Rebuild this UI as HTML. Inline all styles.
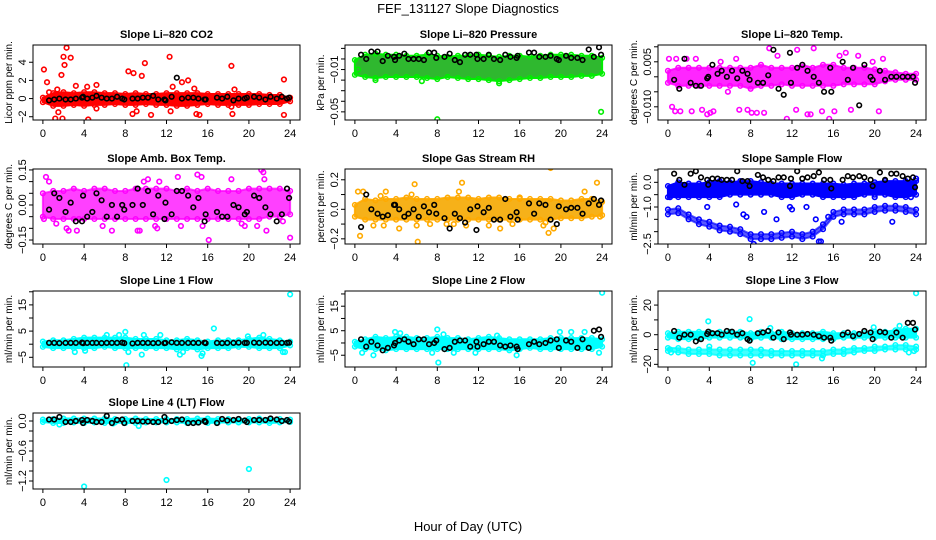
<!DOCTYPE html>
<html><head><meta charset="utf-8"><style>
html,body{margin:0;padding:0;background:#fff}
svg{display:block;font-family:"Liberation Sans",Arial,sans-serif}
</style></head><body>
<svg id="chart" width="936" height="540" viewBox="0 0 936 540" xmlns="http://www.w3.org/2000/svg">
<text x="468" y="13" font-size="13" text-anchor="middle">FEF_131127  Slope Diagnostics</text>
<text x="468" y="531" font-size="13" text-anchor="middle">Hour of Day (UTC)</text>
</svg>
<script>
// ---- shared categories ----
const hours = [0,1,2,3,4,5,6,7,8,9,10,11,12,13,14,15,16,17,18,19,20,21,22,23,24];
const blackTimes = [0.6,1.1,1.6,2.2,2.7,3.2,3.8,3.9,4.3,4.8,5.2,5.7,6.2,6.7,7.2,7.7,7.9,8.7,9.2,9.7,10.2,10.7,11.2,11.8,11.9,12.5,13.0,13.5,14.1,14.6,15.1,15.7,15.8,16.9,17.4,17.9,18.5,19.0,19.6,19.8,20.5,21.0,21.6,22.1,22.7,23.2,23.7,23.9];
const xTicks = [0,4,8,12,16,20,24];

// ---- Li-820 CO2 ----
const co2Lo = [-0.4,-0.8,-0.8,-0.7,-0.8,-0.7,-0.7,-0.6,-0.7,-0.7,-0.6,-0.7,-0.7,-0.8,-0.8,-0.7,-0.6,-0.7,-0.7,-0.7,-0.7,-0.6,-0.6,-0.6,-0.3];
const co2Hi = [0.1,0.6,0.7,0.6,0.7,0.7,0.6,0.6,0.5,0.6,0.5,0.5,0.6,0.6,0.6,0.6,0.5,0.5,0.5,0.5,0.5,0.5,0.4,0.4,0.1];
const co2OutT = [0.1,0.4,0.6,1.4,1.2,1.5,1.8,1.9,2.0,2.1,2.3,2.7,3.2,4.3,4.4,5.2,5.2,8.3,8.8,8.7,9.1,9.6,9.9,10.5,12.3,12.4,12.6,13.5,14.1,14.7,14.9,15.2,18.3,18.4,18.3,18.6,23.4,23.4];
const co2OutV = [3.2,1.8,0.7,1.0,-2.2,-1.5,2.6,-2.2,4.6,3.7,5.6,4.5,1.4,1.3,-2.3,1.5,-1.1,3.0,2.8,-1.7,-1.4,2.5,3.9,-1.8,4.6,-1.4,1.3,1.8,2.0,1.1,-1.7,-1.8,3.6,-1.7,-0.9,1.0,2.1,-1.8];
const co2Black = [-0.2,-0.1,0,-0.1,-0.1,0,0.1,0.2,0,0.1,0.3,0.1,0,0,0.2,0,-0.1,0,0,0.1,0.1,0.3,-0.1,-0.1,-0.2,0.2,2.3,0,0.1,0.1,0,-0.1,-0.1,0.1,0,0.2,-0.2,0,0,0.1,0.2,0.1,-0.1,0.2,0,0.2,0,0.1];

// ---- Li-820 Pressure ----
const presLo = [-0.015,-0.017,-0.018,-0.017,-0.017,-0.017,-0.017,-0.018,-0.019,-0.017,-0.018,-0.019,-0.019,-0.02,-0.021,-0.02,-0.019,-0.018,-0.018,-0.017,-0.017,-0.017,-0.016,-0.016,-0.014];
const presHi = [-0.001,0.004,0.005,0.004,0.004,0.003,0.003,0.004,0.003,0.002,0.003,0.003,0.004,0.003,0.002,0.003,0.003,0.002,0.003,0.004,0.004,0.004,0.003,0.003,0.001];
const presOutT = [8.0,23.9,0.3,2.0,6.5,14.0];
const presOutV = [-0.057,-0.050,-0.01,-0.02,-0.021,-0.023];
const presBlack = [0.004,0.0,0.007,0.007,-0.002,0.003,0.002,-0.001,0.003,0.005,0,0,0,-0.001,0.006,0.006,0.001,0.002,0.005,-0.001,-0.003,0.004,0.004,0.004,0,0,0.004,0,-0.001,0.004,0.002,0.001,0.003,0.006,0.006,0.002,0.002,0.003,0,-0.001,0.003,0.001,0.001,-0.001,0.009,0.002,0.011,0.004];

// ---- Li-820 Temp ----
const tempLo = [-0.002,-0.003,-0.003,-0.003,-0.003,-0.003,-0.003,-0.003,-0.004,-0.003,-0.003,-0.0025,-0.003,-0.003,-0.003,-0.003,-0.003,-0.0025,-0.0025,-0.0025,-0.0025,-0.0015,-0.001,-0.001,-0.001];
const tempHi = [0.002,0.003,0.003,0.003,0.003,0.003,0.003,0.003,0.003,0.004,0.003,0.003,0.003,0.004,0.003,0.004,0.004,0.003,0.003,0.003,0.0025,0.002,0.0015,0.001,0.001];
const tempOutT = [0.1,0.4,0.7,0.8,1.2,1.8,2.3,2.7,3.3,3.8,4.1,4.4,5.1,5.8,6.6,6.9,7.7,8.1,8.6,9.3,9.8,10.6,11.5,12.4,12.5,13.5,13.8,14.1,14.9,15.6,16.1,16.6,17.2,17.7,18.4,19.8,20.4,20.8];
const tempOutV = [0.006,-0.010,-0.0115,0.006,-0.0115,0.006,-0.0115,0.006,-0.011,-0.0125,-0.012,-0.0115,0.005,-0.005,0.006,-0.011,-0.011,-0.012,-0.012,-0.012,0.0095,0.007,-0.014,-0.011,0.009,-0.0125,-0.0125,0.0095,-0.0115,-0.014,-0.0115,0.007,0.008,-0.011,0.007,0.005,-0.0115,0.006];
const tempBlack = [-0.001,-0.004,0.006,-0.002,-0.003,-0.003,-0.0005,0.0,0.004,0.001,0.002,0.0,0.002,-0.0005,0.002,0.001,-0.001,-0.002,-0.002,0.0005,0.009,-0.004,-0.006,0.008,-0.002,0.003,0.004,0.002,0.0,-0.002,-0.005,0.003,-0.005,0.005,-0.001,0.003,-0.0095,0.004,0.0,-0.001,0.002,-0.001,0.0,0.0,0.0,0.0,0.0,-0.002];

// ---- Amb. Box Temp ----
const ambLo = [-0.05,-0.06,-0.06,-0.06,-0.06,-0.06,-0.06,-0.06,-0.06,-0.06,-0.06,-0.06,-0.06,-0.06,-0.06,-0.06,-0.06,-0.06,-0.06,-0.06,-0.06,-0.06,-0.05,-0.05,-0.04];
const ambHi = [0.05,0.06,0.06,0.07,0.06,0.07,0.07,0.06,0.06,0.07,0.07,0.07,0.07,0.06,0.07,0.06,0.07,0.06,0.06,0.06,0.07,0.07,0.07,0.07,0.06];
const ambOutT = [0.3,0.6,0.1,1.3,2.3,2.5,3.3,3.5,5.8,6.7,9.2,9.4,9.8,10.2,10.9,11.1,11.3,13.1,13.4,15.0,15.4,15.5,16.1,18.3,19.3,19.6,20.8,21.2,21.4,21.5,21.7,23.3,24.0];
const ambOutV = [0.12,0.10,-0.06,-0.08,-0.10,-0.11,-0.11,-0.06,-0.09,-0.11,-0.11,-0.11,0.10,0.11,-0.09,-0.10,0.10,0.12,-0.09,0.13,0.12,-0.09,-0.15,0.11,-0.08,-0.09,-0.09,0.15,0.14,0.11,-0.11,-0.07,-0.14];
const ambBlack = [-0.02,0.05,0.03,-0.03,0.01,-0.07,-0.07,0.04,-0.05,-0.03,0.05,0.02,-0.05,0.0,-0.05,0.0,-0.02,0.0,0.07,0.0,0.06,-0.04,0.04,-0.06,0.01,-0.04,0.06,0.06,0.04,-0.01,0.03,-0.07,-0.04,-0.03,-0.05,-0.05,0.0,-0.01,-0.04,-0.03,0.04,0.03,-0.01,-0.04,-0.07,-0.04,0.07,0.03];

// ---- Gas Stream RH ----
const rhLo = [-0.05,-0.07,-0.07,-0.07,-0.07,-0.07,-0.07,-0.07,-0.07,-0.07,-0.07,-0.07,-0.07,-0.07,-0.07,-0.07,-0.07,-0.07,-0.07,-0.07,-0.06,-0.06,-0.06,-0.05,-0.04];
const rhHi = [0.03,0.07,0.06,0.07,0.07,0.08,0.07,0.07,0.07,0.08,0.08,0.08,0.07,0.08,0.08,0.07,0.07,0.07,0.07,0.07,0.06,0.06,0.07,0.07,0.05];
const rhOutT = [0.3,0.5,0.8,1.8,2.5,2.8,3.0,4.3,5.5,5.8,6.0,6.1,7.3,8.9,9.6,10.1,10.4,10.8,13.0,14.1,15.3,16.0,18.3,18.5,18.8,19.0,19.3,22.3,23.5,23.8];
const rhOutV = [0.12,-0.18,0.12,-0.11,0.09,-0.11,0.12,-0.13,0.10,0.17,-0.11,-0.22,-0.10,-0.10,-0.10,0.12,0.18,-0.11,-0.11,-0.13,-0.10,0.08,-0.11,-0.09,-0.16,0.28,-0.13,0.12,0.18,-0.05];
const rhBlack = [-0.12,0.10,0.0,-0.03,-0.05,-0.04,0.03,0.03,0.0,-0.05,-0.03,0.0,-0.05,0.02,-0.02,0.03,-0.03,-0.06,-0.13,-0.03,-0.06,-0.09,0.0,-0.14,0.02,-0.02,0.01,-0.07,-0.07,0.07,-0.05,-0.02,-0.07,0.04,-0.03,0.04,0.03,-0.07,-0.10,0.02,0.0,0.01,0.01,-0.03,0.04,0.07,0.03,0.06];

// ---- Sample Flow ----
const sfLo = [-0.6,-0.6,-0.6,-0.6,-0.6,-0.6,-0.5,-0.5,-0.5,-0.5,-0.5,-0.6,-0.6,-0.5,-0.5,-0.6,-0.6,-0.6,-0.6,-0.5,-0.5,-0.5,-0.6,-0.6,-0.5];
const sfHi = [-0.15,0.0,-0.05,-0.05,0.0,0.05,0.0,0.05,0.05,0.0,-0.05,-0.05,-0.05,-0.05,-0.05,-0.05,-0.05,-0.1,-0.05,-0.05,0.0,0.05,0.05,0.05,0.05];
const sf2Lo = [-1.3,-1.25,-1.5,-1.7,-1.8,-1.95,-2.0,-2.1,-2.3,-2.3,-2.3,-2.25,-2.2,-2.3,-2.2,-1.9,-1.4,-1.3,-1.3,-1.3,-1.2,-1.15,-1.15,-1.2,-1.3];
const sf2Hi = [-1.1,-1.05,-1.3,-1.5,-1.6,-1.75,-1.8,-1.9,-2.1,-2.1,-2.1,-2.05,-2.0,-2.1,-2.0,-1.7,-1.2,-1.1,-1.1,-1.1,-1.0,-0.95,-0.95,-1.0,-1.1];
const sfOutT = [6.6,7.3,7.6,9.3,10.5,11.8,12.0,13.4,14.3,15.5,16.8,20.0,21.7,3.8,8.3,14.6,14.8,0.2,23.5,24.0];
const sfOutV = [-0.9,-1.3,-1.4,-1.2,-1.5,-1.0,-1.1,-1.0,-1.5,-1.4,-1.6,-0.6,-1.6,-1.0,-2.5,-2.4,-2.4,-0.6,-0.6,0.15];
const sfBlack = [0.35,0.1,-0.1,0.35,0.45,0.2,0.1,-0.1,0.15,0.15,0.1,0.1,0.1,0.45,0.05,0.05,-0.15,0.3,0.2,0.1,0.05,0.2,0.2,-0.15,0.15,0.45,0.15,0.2,0.25,0.4,0.1,0.1,-0.25,0.1,0.25,0.2,0.25,0.2,0.1,-0.15,0.4,0.1,0.35,0.35,0.25,0.15,0.2,-0.2];

// ---- Line 1 Flow ----
const l1Lo = [-1,-1.5,-1.5,-1.5,-1.5,-1.5,-1,-1.5,-1.5,-1.5,-1.5,-1.5,-1.5,-2,-1.5,-2,-1.5,-1.5,-1.5,-1,-1,-1.5,-1.5,-1.5,-0.5];
const l1Hi = [1,1.5,1.5,2,2.5,2.5,2.5,2.5,2.5,2,2,2,1.5,1.5,2,1.5,1,1.5,1.5,1.5,2,2.5,2,1.5,1];
const l1OutT = [3.1,4.1,6.2,7.4,8.0,8.1,8.3,9.6,9.8,11.4,13.3,13.6,15.4,15.5,16.6,19.9,21.4,23.3,23.5,24.0];
const l1OutV = [-3,-2.5,3.5,3.5,4.7,-8,-3,-4,3.5,3.5,-4,-3,-4.5,-3.5,6,3,3.5,-3,-3,19];
const l1Black = [0.5,0.5,0.4,0.5,0.5,0.5,0.6,0.4,0.5,0.5,0.5,0.4,0.5,0.5,0.5,0.6,0.4,0.3,0.5,0.5,0.5,0.4,0.5,0.4,0.5,0.7,0.5,0.5,0.5,0.5,0.5,0.6,0.4,0.5,0.4,0.5,0.5,0.6,0.5,0.5,0.6,0.5,0.6,0.5,0.5,0.5,0.5,0.6];

// ---- Line 2 Flow ----
const l2Lo = [-1.5,-2.5,-2.5,-3,-2.5,-2.5,-2.5,-2.5,-2.5,-2.5,-2.5,-2.5,-2.5,-2.5,-2.5,-3,-2.5,-2,-2.5,-2.5,-2.5,-2.5,-2.5,-2.5,-1.5];
const l2Hi = [0.5,1.5,2.5,2,2.5,2.5,2,2,2.5,2,2,1.5,2,2.5,2,1.5,1.5,1.5,1.5,2,2,2,2,2,1.5];
const l2OutT = [0.7,1.8,3.9,4.4,7.5,8.0,8.1,8.6,9.6,11.7,13.8,15.7,19.9,21.0,22.3,23.7,24.0];
const l2OutV = [-4,-5,4.5,4,-4,5.5,-8,3.5,-4,-4,3,-5,4.5,4.5,4.5,-4,20.5];
const l2Black = [1.5,-1.5,0.5,-1,-3,-2,-1,0,1,1.5,0.5,-0.5,1.5,1.5,-0.5,0,1,-2.5,-2,0.5,1,1,-1.5,0.5,-1.5,-0.5,0.5,0.5,-1,-1.5,-1,-1.5,-2.5,-0.5,0.5,-0.5,0,1,1.5,-2,1,0.5,-2,1.5,-2,5,5.5,2.5];

// ---- Line 3 Flow ----
const l3Lo = [-2,-3,-3,-3,-2,-2,-2,-2,-3,-2,-2,-3,-3,-3,-3,-3,-3,-2,-2,-2,-2,-2,-2,-2,-2];
const l3Hi = [1,2,2,2,2,2,2,2,1,2,1,2,1,1,1,2,1,1,1,1,2,2,3,4,4];
const l3bLo = [-11,-12,-13,-13,-13,-14,-14,-14,-14,-14,-14,-14,-14,-14,-14,-14,-13,-13,-12,-11,-11,-10,-10,-10,-10];
const l3bHi = [-9,-9,-10,-10,-10,-10,-10,-10,-10,-10,-11,-11,-11,-11,-11,-11,-10,-10,-9,-9,-8,-8,-7,-7,-8];
const l3OutT = [0.2,0.3,3.9,4.0,7.9,8.2,12.4,14.9,19.9,22.4,23.3,23.8,24.0,9.9];
const l3OutV = [-10,-12,9,-8,10.5,-19,-20,-16,5,6,-12,-11,28,4.5];
const l3Black = [2.5,-2,0,0,-4.5,-3,0.5,2,1,1,0,2.5,2,0,1,-3,-4,1,1.5,2.5,-2,1.5,-3,1.5,0,0,0,0.5,0,-1,-2,-2,-4,0,1.5,-1,0.5,2.5,1.5,-3,2,1.5,-2,1.5,-2,8,8,3.5];

// ---- Line 4 (LT) Flow ----
const l4Lo = [-0.02,-0.04,-0.04,-0.03,-0.04,-0.03,-0.04,-0.03,-0.04,-0.04,-0.03,-0.03,-0.03,-0.03,-0.04,-0.03,-0.04,-0.03,-0.03,-0.03,-0.03,-0.03,-0.04,-0.03,-0.02];
const l4Hi = [0.03,0.04,0.05,0.05,0.05,0.05,0.05,0.04,0.04,0.05,0.04,0.04,0.04,0.04,0.04,0.05,0.05,0.04,0.04,0.04,0.04,0.05,0.04,0.04,0.03];
const l4OutT = [4.0,12.0,20.0,1.6,9.3,6.8];
const l4OutV = [-1.31,-1.18,-0.96,-0.07,-0.10,-0.05];
const l4Black = [0.03,0.03,0.08,-0.02,-0.02,0,0.02,-0.04,0.02,0,-0.02,-0.02,0.1,-0.04,0.02,0.03,-0.04,0,0,-0.01,-0.01,-0.02,-0.02,0.08,-0.01,0,0.02,0.03,-0.04,-0.04,-0.03,0,-0.02,-0.04,0.04,0.01,0.02,0.04,0.01,-0.02,0.02,0.02,0.02,0.05,0.03,0,0.02,-0.01];

// ---- y-axis ticks ----
const co2Ticks=[-2,0,2,4], co2Labels=["\u22122","0","2","4"];
const presTicks=[0.01,0,-0.01,-0.02,-0.03,-0.04,-0.05], presLabels=["","","\u22120.01","","","","\u22120.05"];
const tempTicks=[0.01,0.005,0,-0.005,-0.01], tempLabels=["","0.005","","","\u22120.010"];
const ambTicks=[0.15,0.1,0.05,0,-0.05,-0.1,-0.15], ambLabels=["0.15","","","0.00","","","\u22120.15"];
const rhTicks=[0.2,0.1,0,-0.1,-0.2], rhLabels=["0.2","","0.0","","\u22120.2"];
const sfTicks=[0.5,0,-0.5,-1,-1.5,-2,-2.5], sfLabels=["","0.0","","\u22121.0","","","\u22122.5"];
const l1Ticks=[20,15,10,5,0,-5], l1Labels=["","15","","5","","\u22125"];
const l3Ticks=[20,10,0,-10,-20], l3Labels=["20","","0","","\u221220"];
const l4Ticks=[0,-0.2,-0.4,-0.6,-0.8,-1.0,-1.2], l4Labels=["0.0","","","\u22120.6","","","\u22121.2"];

const svg = document.getElementById('chart');
const NS = 'http://www.w3.org/2000/svg';
function mk(tag, attrs, parent){const e=document.createElementNS(NS,tag);for(const k in attrs)e.setAttribute(k,attrs[k]);(parent||svg).appendChild(e);return e;}

const cols=[[33,300],[345,612],[658,926]];
const rows=[[45,120],[169,244],[291,367],[413,489]];
const panels=[
 {name:'co2',title:'Slope Li\u2013820 CO2',ylab:'Licor ppm per min.',c:0,r:0,ymin:-2.36,ymax:5.9,col:'#ff0000',fill:'#ff0000',op:[1],bands:[[co2Lo,co2Hi]],ot:co2OutT,ov:co2OutV,bk:co2Black,ticks:co2Ticks,labs:co2Labels},
 {name:'pressure',title:'Slope Li\u2013820 Pressure',ylab:'kPa per min.',c:1,r:0,ymin:-0.0577,ymax:0.0132,col:'#00ee00',fill:'#2fb82f',op:[1],bands:[[presLo,presHi]],ot:presOutT,ov:presOutV,bk:presBlack,ticks:presTicks,labs:presLabels},
 {name:'temp',title:'Slope Li\u2013820 Temp.',ylab:'degrees C per min.',c:2,r:0,ymin:-0.0144,ymax:0.0106,col:'#ff00ff',fill:'#ff00ff',op:[0.85],bands:[[tempLo,tempHi]],ot:tempOutT,ov:tempOutV,bk:tempBlack,ticks:tempTicks,labs:tempLabels},
 {name:'amb-box-temp',title:'Slope Amb. Box Temp.',ylab:'degrees C per min.',c:0,r:1,ymin:-0.167,ymax:0.154,col:'#ff00ff',fill:'#ff00ff',op:[0.75],bands:[[ambLo,ambHi]],ot:ambOutT,ov:ambOutV,bk:ambBlack,ticks:ambTicks,labs:ambLabels},
 {name:'gas-stream-rh',title:'Slope Gas Stream RH',ylab:'percent per min.',c:1,r:1,ymin:-0.235,ymax:0.273,col:'#ffaa00',fill:'#f5a800',op:[0.9],bands:[[rhLo,rhHi]],ot:rhOutT,ov:rhOutV,bk:rhBlack,ticks:rhTicks,labs:rhLabels},
 {name:'sample-flow',title:'Slope Sample Flow',ylab:'ml/min per min.',c:2,r:1,ymin:-2.5,ymax:0.54,col:'#0000ff',fill:'#0000ff',op:[1,0.65],bands:[[sfLo,sfHi],[sf2Lo,sf2Hi]],ot:sfOutT,ov:sfOutV,bk:sfBlack,ticks:sfTicks,labs:sfLabels},
 {name:'line1-flow',title:'Slope Line 1 Flow',ylab:'ml/min per min.',c:0,r:2,ymin:-8.7,ymax:20.3,col:'#00ffff',fill:'#00ffff',op:[1],bands:[[l1Lo,l1Hi]],ot:l1OutT,ov:l1OutV,bk:l1Black,ticks:l1Ticks,labs:l1Labels},
 {name:'line2-flow',title:'Slope Line 2 Flow',ylab:'ml/min per min.',c:1,r:2,ymin:-9.8,ymax:21.2,col:'#00ffff',fill:'#00ffff',op:[1],bands:[[l2Lo,l2Hi]],ot:l2OutT,ov:l2OutV,bk:l2Black,ticks:l1Ticks,labs:l1Labels},
 {name:'line3-flow',title:'Slope Line 3 Flow',ylab:'ml/min per min.',c:2,r:2,ymin:-21.8,ymax:29.5,col:'#00ffff',fill:'#00ffff',op:[1,0.75],bands:[[l3Lo,l3Hi],[l3bLo,l3bHi]],ot:l3OutT,ov:l3OutV,bk:l3Black,ticks:l3Ticks,labs:l3Labels},
 {name:'line4-flow',title:'Slope Line 4 (LT) Flow',ylab:'ml/min per min.',c:0,r:3,ymin:-1.36,ymax:0.16,col:'#00ffff',fill:'#00ffff',op:[1],bands:[[l4Lo,l4Hi]],ot:l4OutT,ov:l4OutV,bk:l4Black,ticks:l4Ticks,labs:l4Labels}
];

panels.forEach(p=>{
  const L=cols[p.c][0],R=cols[p.c][1],T=rows[p.r][0],B=rows[p.r][1];
  const x0=L+(R-L)*0.96/25.92;
  const xs=(R-L)/25.92;
  const X=t=>x0+t*xs;
  const Y=v=>B-(v-p.ymin)/(p.ymax-p.ymin)*(B-T);
  const g=mk('g',{});
  
  
  const t=mk('text',{x:(L+R)/2,y:T-7,'font-size':11,'font-weight':'bold','text-anchor':'middle'},g);
  t.textContent=p.title;
  
  
  const yl=mk('text',{x:0,y:0,'font-size':10,'text-anchor':'middle',transform:`translate(${L-21},${(T+B)/2}) rotate(-90)`},g);
  yl.textContent=p.ylab;
  
  
  const cid='clip-'+p.name;
  const cp=mk('clipPath',{id:cid},g); mk('rect',{x:L,y:T,width:R-L,height:B-T},cp);
  const plot=mk('g',{'clip-path':`url(#${cid})`},g);
  
  
  p.bands.forEach((bd,bi)=>{
    const lo=bd[0],hi=bd[1];
    const op=p.op[bi];
    let pts=hours.map((h,i)=>X(h)+','+Y(hi[i]));
    pts=pts.concat(hours.slice().reverse().map((h,k)=>{const i=hours.length-1-k;return X(h)+','+Y(lo[i]);}));
    const poly=mk('polygon',{points:pts.join(' '),fill:p.fill,'fill-opacity':op,stroke:p.col,'stroke-opacity':op,'stroke-width':2,'stroke-linejoin':'round'},plot);
    
    
    hours.forEach((h,i)=>{
      [hi[i],lo[i]].forEach(v=>{
        const c=mk('circle',{cx:X(h),cy:Y(v),r:2.3,fill:'none',stroke:p.col,'stroke-width':1.5},plot);
        
        
      });
    });
  });
  p.ot.forEach((tt,i)=>{
    const c=mk('circle',{cx:X(tt),cy:Y(p.ov[i]),r:2.3,fill:'none',stroke:p.col,'stroke-width':1.6},plot);
    
    
  });
  const n=Math.min(blackTimes.length,p.bk.length);
  for(let i=0;i<n;i++){
    const c=mk('circle',{cx:X(blackTimes[i]),cy:Y(p.bk[i]),r:2.3,fill:'none',stroke:'#000','stroke-width':1.6},plot);
    
    
  }
  const box=mk('rect',{x:L,y:T,width:R-L,height:B-T,fill:'none',stroke:'#000','stroke-width':1},g);
  
  
  mk('line',{x1:X(xTicks[0]),x2:X(xTicks[xTicks.length-1]),y1:B,y2:B,stroke:'#000'},g);
  xTicks.forEach(v=>{
    mk('line',{x1:X(v),x2:X(v),y1:B,y2:B+4,stroke:'#000'},g);
    const tl=mk('text',{x:X(v),y:B+17,'font-size':11,'text-anchor':'middle'},g);
    tl.textContent=String(v);
    
    
  });
  const tv=p.ticks;
  mk('line',{x1:L,x2:L,y1:Y(Math.max(...tv)),y2:Y(Math.min(...tv)),stroke:'#000'},g);
  tv.forEach((v,i)=>{
    mk('line',{x1:L-4,x2:L,y1:Y(v),y2:Y(v),stroke:'#000'},g);
    if(p.labs[i]){
      const tl=mk('text',{x:0,y:0,'font-size':11,'text-anchor':'middle',transform:`translate(${L-7},${Y(v)}) rotate(-90)`},g);
      tl.textContent=p.labs[i];
      
      
    }
  });
});
</script>
</body></html>
